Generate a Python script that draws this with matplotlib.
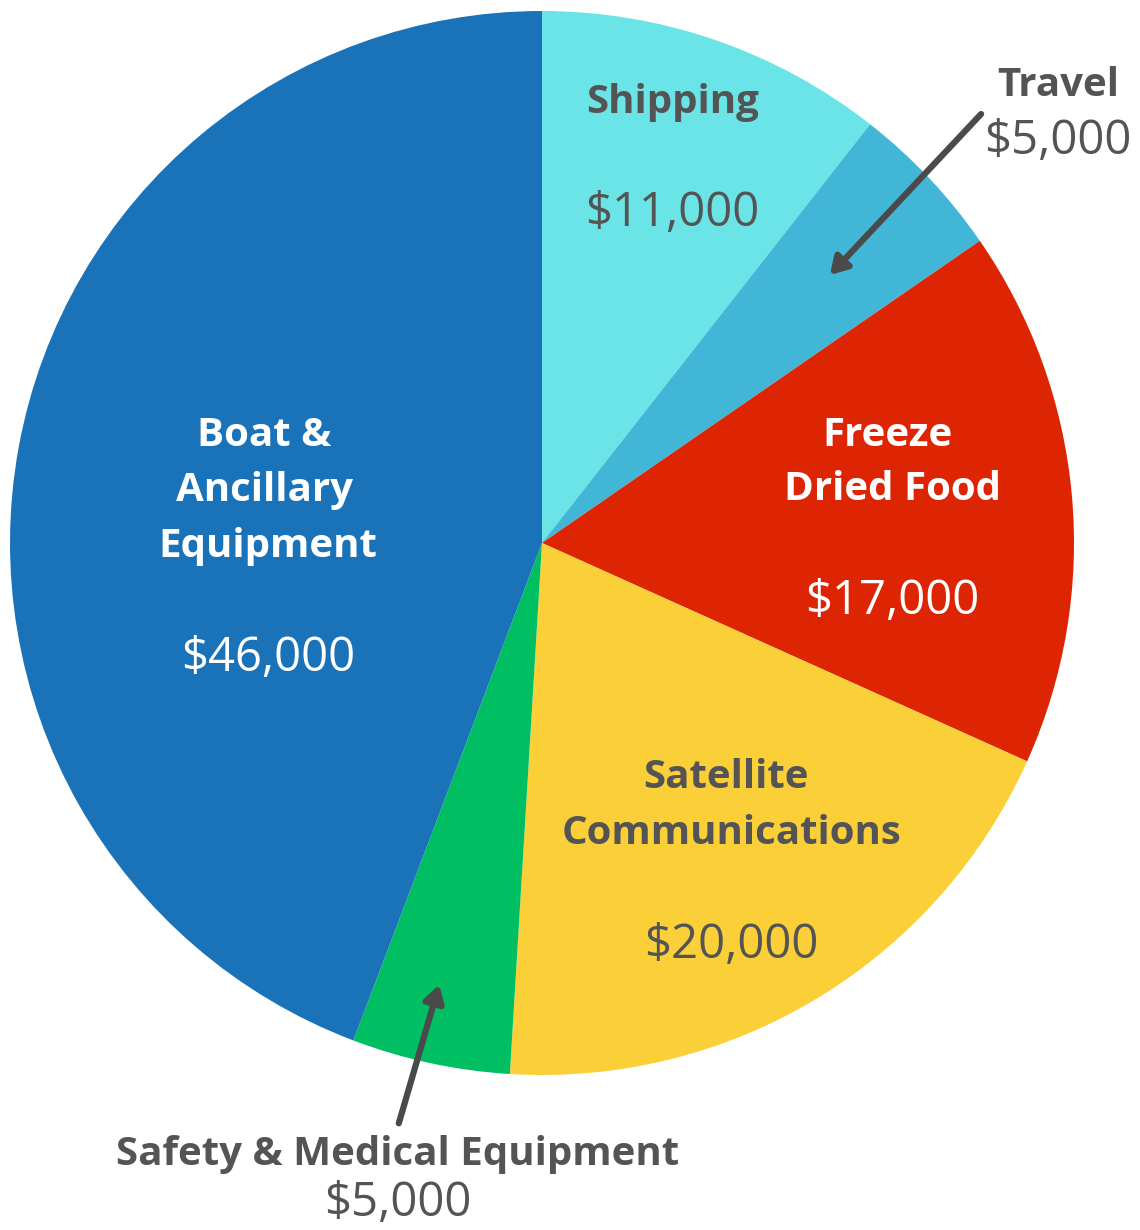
import matplotlib.pyplot as plt

labels = ["Shipping", "Travel", "Freeze Dried Food", "Satellite Communications",
          "Safety & Medical Equipment", "Boat & Ancillary Equipment"]
values = [11000, 5000, 17000, 20000, 5000, 46000]
colors = ["#6AE4E6", "#42B6D6", "#DD2504", "#FBCF37", "#00BF63", "#1A72B8"]

W, H = 1140, 1230
fig = plt.figure(figsize=(W / 100, H / 100), dpi=100)
ax = fig.add_axes([0, 0, 1, 1])

cx, cy, r = 542, H - 543, 532
ax.pie(values, colors=colors, startangle=90, counterclock=False,
       center=(cx, cy), radius=r, frame=True,
       wedgeprops=dict(linewidth=0))
ax.set_xlim(0, W)
ax.set_ylim(0, H)
ax.set_aspect("equal")
ax.axis("off")

grey = "#545454"
fam = "Open Sans"


def txt(x, y, s, bold=True, color=grey):
    size = 29 if bold else 34
    # small nudge down so the glyphs sit where the reference has them
    ax.text(x, H - y - 3, s, ha="center", va="center", fontsize=size,
            fontweight="bold" if bold else "normal", color=color, family=fam)


def money(v):
    return "${:,}".format(v)


# Shipping
txt(673, 100, "Shipping")
txt(672, 210, money(values[0]), bold=False)
# Travel
txt(1058, 82, "Travel")
txt(1058, 138, money(values[1]), bold=False)
# Freeze dried
txt(888, 432, "Freeze", color="white")
txt(893, 487, "Dried Food", color="white")
txt(892, 598, money(values[2]), bold=False, color="white")
# Satellite
txt(726, 775, "Satellite")
txt(731, 830, "Communications")
txt(731, 942, money(values[3]), bold=False)
# Boat
txt(264, 432, "Boat &", color="white")
txt(264, 487, "Ancillary", color="white")
txt(268, 543, "Equipment", color="white")
txt(268, 655, money(values[5]), bold=False, color="white")
# Safety
txt(398, 1152, "Safety & Medical Equipment")
txt(398, 1200, money(values[4]), bold=False)

arrow = dict(arrowstyle="-|>,head_length=1.0,head_width=0.6", color="#4a4a4a", lw=4.5)
ax.annotate("", xy=(828, H - 277), xytext=(983, H - 112), arrowprops=arrow)
ax.annotate("", xy=(440, H - 982), xytext=(398, H - 1126), arrowprops=arrow)

fig.savefig("out.png", dpi=100)
